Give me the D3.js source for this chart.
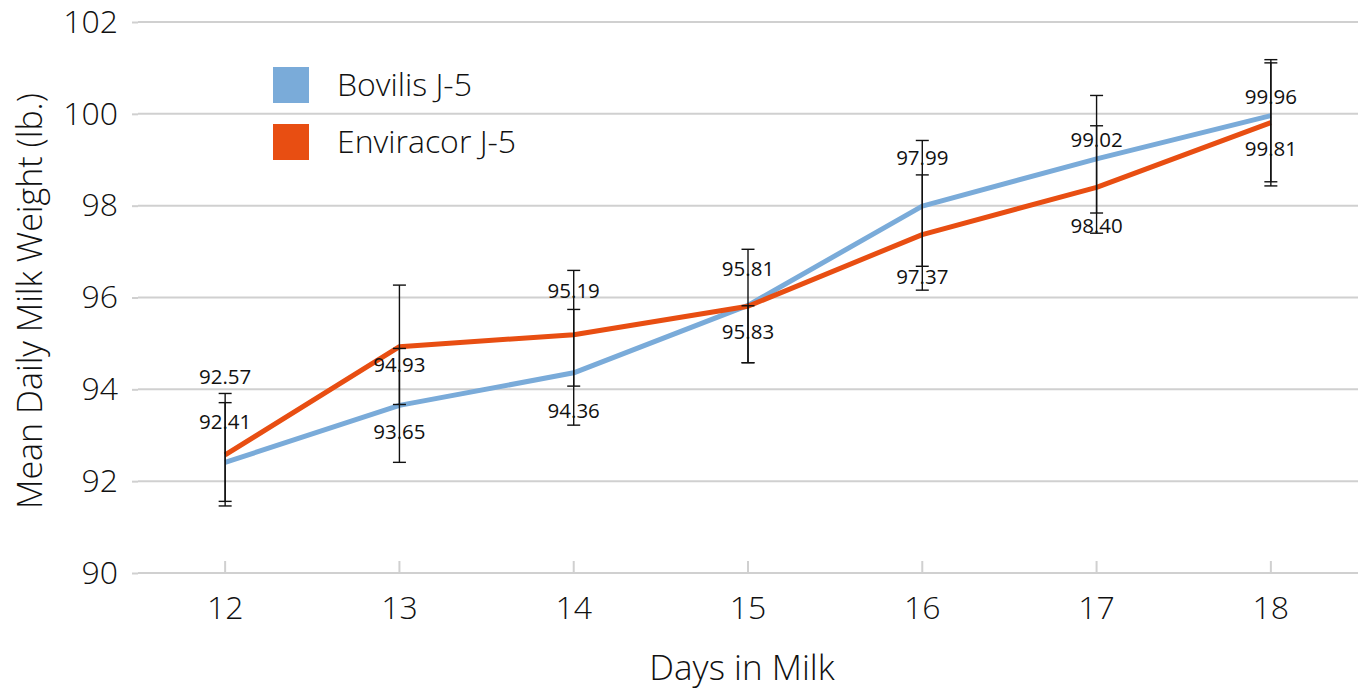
<!DOCTYPE html>
<html>
<head>
<meta charset="utf-8">
<script src="https://cdn.jsdelivr.net/npm/d3@7"></script>
<style>
  html, body { margin: 0; padding: 0; background: #fff; }
  svg { display: block; }
  .thin { font-family: "Open Sans", "Lato", sans-serif; font-weight: 300; fill: #111; }
  .lbl { font-family: "Open Sans", "Noto Sans", sans-serif; font-weight: 400; fill: #111; }
</style>
</head>
<body>
<svg id="chart" width="1363" height="691"></svg>
<script>
// ---- data ----
const days = ["12", "13", "14", "15", "16", "17", "18"];
const seriesNames = ["Bovilis J-5", "Enviracor J-5"];
const bovilis = [92.41, 93.65, 94.36, 95.83, 97.99, 99.02, 99.96];
const enviracor = [92.57, 94.93, 95.19, 95.81, 97.37, 98.40, 99.81];
// error bar extents [low, high]
const bovilisErr = [[91.56, 93.91], [92.41, 94.89], [93.22, 95.74], [94.58, 95.82], [96.68, 99.42], [97.84, 100.40], [98.52, 101.18]];
const enviracorErr = [[91.46, 93.71], [93.67, 96.27], [94.07, 96.59], [94.58, 97.05], [96.16, 98.67], [97.40, 99.74], [98.43, 101.11]];
const yTicks = [90, 92, 94, 96, 98, 100, 102];

// ---- layout (label offsets in px, not data) ----
const bovilisLabelDy = [-41, 26, 38, 27, -48, -19, -19];
const enviracorLabelDy = [-78, 18, -44, -37, 42, 39, 26];
const colors = ["#7aabd9", "#e84e12"];

const svg = d3.select("#chart");
const mLeft = 138, mRight = 1358, mTop = 22, mBottom = 573;

const x = d3.scaleBand().domain(days).range([mLeft, mRight]);
const cx = d => x(d) + x.bandwidth() / 2;
const y = d3.scaleLinear().domain([90, 102]).range([mBottom, mTop]);

// gridlines
svg.append("g").selectAll("line").data(yTicks).join("line")
  .attr("x1", mLeft).attr("x2", mRight)
  .attr("y1", d => y(d)).attr("y2", d => y(d))
  .attr("stroke", "#d0d0d0").attr("stroke-width", 2);

// y axis ticks (small grey marks) and labels
const yAxis = d3.axisLeft(y).tickValues(yTicks).tickSize(6).tickPadding(14).tickFormat(d3.format("d"));
const gy = svg.append("g").attr("transform", `translate(${mLeft},0)`).call(yAxis);
gy.select(".domain").remove();
gy.selectAll(".tick line").attr("stroke", "#d0d0d0").attr("stroke-width", 2);
gy.selectAll(".tick text").attr("class", "thin").style("font-size", "32px").attr("fill", "#111");

// x axis
const xAxis = d3.axisBottom(x).tickSize(-12).tickPadding(23);
const gx = svg.append("g").attr("transform", `translate(0,${mBottom})`).call(xAxis);
gx.select(".domain").remove();
gx.selectAll(".tick line").attr("stroke", "#d0d0d0").attr("stroke-width", 2);
gx.selectAll(".tick text").attr("class", "thin").style("font-size", "32px").attr("fill", "#111");

// axis titles
svg.append("text").attr("class", "thin")
  .attr("transform", `translate(42,301) rotate(-90)`)
  .attr("text-anchor", "middle").style("font-size", "34px")
  .text("Mean Daily Milk Weight (lb.)");
svg.append("text").attr("class", "thin")
  .attr("x", 742).attr("y", 680)
  .attr("text-anchor", "middle").style("font-size", "35px")
  .text("Days in Milk");

// lines
const line = d3.line().x((d, i) => cx(days[i])).y(d => y(d));
[bovilis, enviracor].forEach((s, k) => {
  svg.append("path").datum(s)
    .attr("d", line).attr("fill", "none")
    .attr("stroke", colors[k]).attr("stroke-width", 5)
    .attr("stroke-linejoin", "round");
});

// error bars
const capW = 6.5;
[bovilisErr, enviracorErr].forEach(errs => {
  const g = svg.append("g").attr("stroke", "#111").attr("stroke-width", 1.4);
  errs.forEach((e, i) => {
    const px = cx(days[i]);
    g.append("line").attr("x1", px).attr("x2", px).attr("y1", y(e[0])).attr("y2", y(e[1]));
    g.append("line").attr("x1", px - capW).attr("x2", px + capW).attr("y1", y(e[0])).attr("y2", y(e[0]));
    g.append("line").attr("x1", px - capW).attr("x2", px + capW).attr("y1", y(e[1])).attr("y2", y(e[1]));
  });
});

// data labels
[[bovilis, bovilisLabelDy], [enviracor, enviracorLabelDy]].forEach(([s, dys]) => {
  svg.append("g").selectAll("text").data(s).join("text")
    .attr("class", "lbl")
    .attr("x", (d, i) => cx(days[i]))
    .attr("y", (d, i) => y(d) + dys[i])
    .attr("dy", "0.35em")
    .attr("text-anchor", "middle").style("font-size", "20.5px")
    .text(d => d.toFixed(2));
});

// legend
const lg = svg.append("g");
seriesNames.forEach((n, k) => {
  lg.append("rect").attr("x", 273).attr("y", 67 + k * 57).attr("width", 36).attr("height", 36).attr("fill", colors[k]);
  lg.append("text").attr("class", "thin").attr("x", 337).attr("y", 85 + k * 57)
    .attr("dy", "0.35em").style("font-size", "32px").text(n);
});
</script>
</body>
</html>
